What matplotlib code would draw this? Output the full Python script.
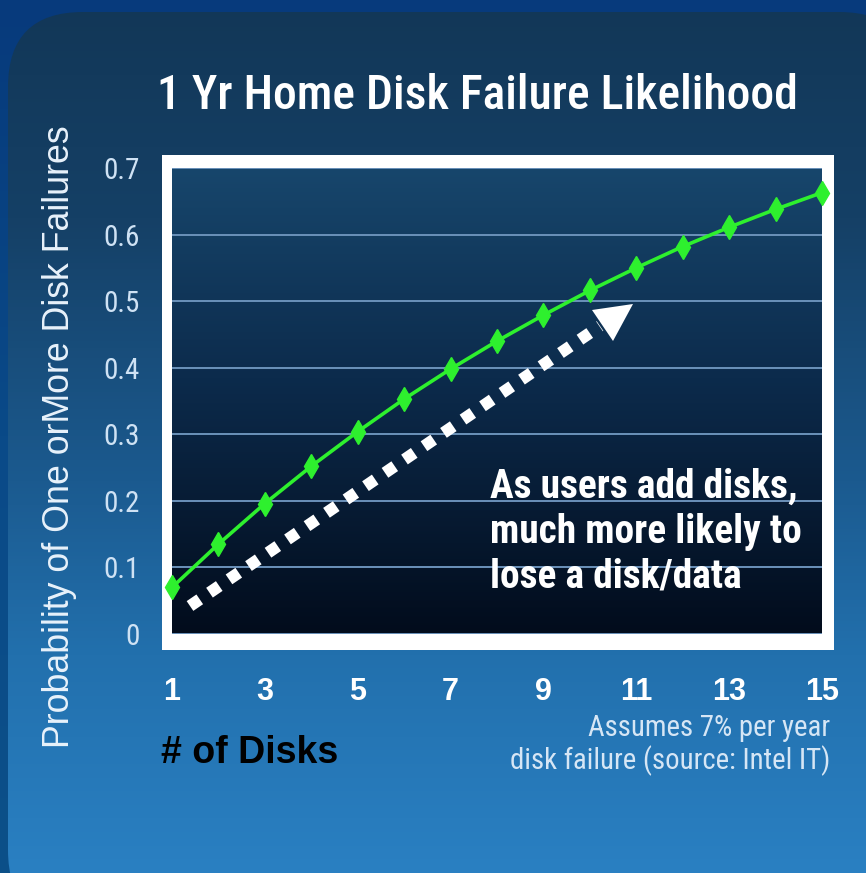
import matplotlib
matplotlib.use('Agg')
import matplotlib.pyplot as plt
import numpy as np
from matplotlib import font_manager as fm
from matplotlib.patches import FancyBboxPatch, Rectangle, Polygon
from matplotlib.colors import LinearSegmentedColormap

# ---------------- data ----------------
disks = [1, 2, 3, 4, 5, 6, 7, 8, 9, 10, 11, 12, 13, 14, 15]
prob = [0.070, 0.135, 0.196, 0.252, 0.304, 0.353, 0.398, 0.440,
        0.479, 0.516, 0.550, 0.582, 0.611, 0.638, 0.663]
yticks = [0, 0.1, 0.2, 0.3, 0.4, 0.5, 0.6, 0.7]
ytick_labels = ['0', '0.1', '0.2', '0.3', '0.4', '0.5', '0.6', '0.7']
xticks = [1, 3, 5, 7, 9, 11, 13, 15]
xtick_labels = ['1', '3', '5', '7', '9', '11', '13', '15']
title = '1 Yr Home Disk Failure Likelihood'
ylabel = 'Probability of One orMore Disk Failures'
xlabel = '# of Disks'
note = 'Assumes 7% per year\ndisk failure (source: Intel IT)'
callout = 'As users add disks,\nmuch more likely to\nlose a disk/data'


def pick(*names):
    for n in names:
        try:
            fm.findfont(fm.FontProperties(family=n), fallback_to_default=False)
            return n
        except Exception:
            pass
    return 'DejaVu Sans'


narrow = pick('Liberation Sans Narrow', 'Roboto Condensed', 'DejaVu Sans Condensed', 'Liberation Sans')
arial = pick('Liberation Sans', 'DejaVu Sans')
tahoma = pick('DejaVu Sans Condensed', 'Liberation Sans Narrow', 'Roboto Condensed', 'DejaVu Sans')

W, H = 866, 873
fig = plt.figure(figsize=(W / 100, H / 100), dpi=100)

# ---------------- background (pixel coordinates) ----------------
bg = fig.add_axes([0, 0, 1, 1], zorder=0)
bg.set_xlim(0, W)
bg.set_ylim(H, 0)
bg.axis('off')

outer_cmap = LinearSegmentedColormap.from_list('outer', ['#073a7c', '#0a4a88', '#0c5088'])
g = np.linspace(0, 1, 256).reshape(-1, 1)
bg.imshow(g, cmap=outer_cmap, extent=(0, W, H, 0), aspect='auto', zorder=0)

panel_cmap = LinearSegmentedColormap.from_list(
    'panel', [(0, '#123757'), (0.25, '#154066'), (0.55, '#1b5a8f'), (0.75, '#2270ad'), (1, '#2a80c2')])
panel = FancyBboxPatch((8, 12), W + 40, H + 40, boxstyle='round,pad=0,rounding_size=75',
                       facecolor='none', edgecolor='none', zorder=1)
bg.add_patch(panel)
im = bg.imshow(g, cmap=panel_cmap, extent=(0, W, H, 0), aspect='auto', zorder=1)
im.set_clip_path(panel)
bg.set_xlim(0, W)
bg.set_ylim(H, 0)

# white frame around plot
bg.add_patch(Rectangle((162, 155), 672, 495, facecolor='white', edgecolor='none', zorder=2))

# ---------------- plot axes ----------------
ax = fig.add_axes([172 / W, 1 - 634 / H, 650 / W, 466 / H], zorder=2)
inner_cmap = LinearSegmentedColormap.from_list(
    'inner', [(0, '#17466c'), (0.45, '#0c2b4c'), (1, '#020c1c')])
ax.imshow(g, cmap=inner_cmap, extent=(0, 1, 0, 1), transform=ax.transAxes,
          aspect='auto', zorder=0)
for s in ax.spines.values():
    s.set_visible(False)

ax.set_yticks(yticks)
ax.set_yticklabels(ytick_labels)
ax.set_xticks(xticks)
ax.set_xticklabels(xtick_labels)
ax.grid(axis='y', color='#6b92ba', lw=1.4, zorder=1)
ax.set_axisbelow(False)
ax.tick_params(length=0)
ax.tick_params(axis='y', pad=23, labelsize=21, labelcolor='#cfe2f4')
ax.tick_params(axis='x', pad=31, labelsize=22, labelcolor='white')
for t in ax.get_yticklabels():
    t.set_family(narrow)
for t in ax.get_xticklabels():
    t.set_family(arial)
    t.set_fontweight('bold')

ax.plot(disks, prob, color='#2ef02e', lw=2.6, marker='d', ms=12,
        markeredgecolor='#2ef02e', clip_on=False, zorder=5)

# dotted arrow (pixel coords)
ax.plot([190, 600], [606, 326], transform=bg.transData, color='white', lw=8.5,
        linestyle=(0, (1, 1.0)), dash_capstyle='butt', clip_on=False, zorder=4)
ax.add_patch(Polygon([(592, 310), (633, 304), (613, 341)], closed=True,
                     facecolor='white', edgecolor='none', transform=bg.transData,
                     clip_on=False, zorder=4))

ax.set_xlim(1, 15)
ax.set_ylim(0, 0.7)


def fit(t, target_w):
    fig.canvas.draw()
    r = fig.canvas.get_renderer()
    w = t.get_window_extent(r).width
    t.set_fontsize(t.get_fontsize() * target_w / w)


# callout text
ct = ax.text(490, 468, callout, transform=bg.transData, color='white', fontsize=22,
             family=tahoma, fontweight='bold', va='top', ha='left', linespacing=1.22,
             zorder=6)
fit(ct, 312)

# ---------------- texts around ----------------
tt = bg.text(477, 96, title, color='white', fontsize=28, family=tahoma,
             fontweight='medium', ha='center', va='center', zorder=3)
fit(tt, 640)

yl = bg.text(60, 437, ylabel, color='#e8f2fb', fontsize=20, family=arial,
             rotation=90, ha='center', va='center', zorder=3)
fig.canvas.draw()
yl_h = yl.get_window_extent(fig.canvas.get_renderer()).height
yl.set_fontsize(yl.get_fontsize() * 623 / yl_h)

xl = bg.text(161, 753, xlabel, color='black', fontsize=24, family=arial,
             fontweight='bold', ha='left', va='center', zorder=3)
fit(xl, 178)

nt = bg.text(830, 745, note, color='#d6e6f5', fontsize=16, family=narrow,
             ha='right', va='center', multialignment='right', linespacing=1.1, zorder=3)
fit(nt, 320)

fig.savefig('out.png', dpi=100)
